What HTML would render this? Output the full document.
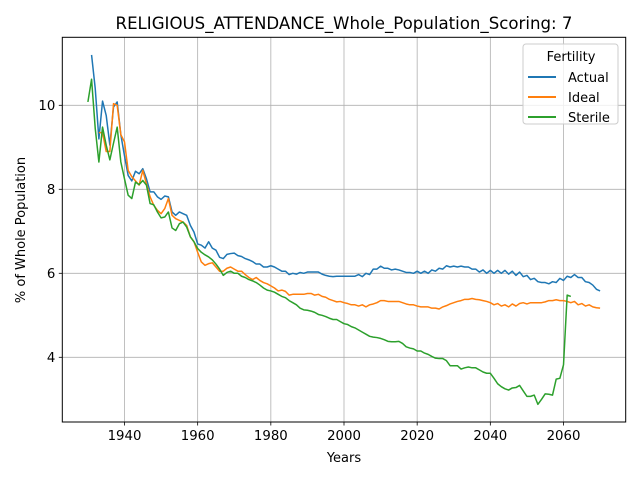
<!DOCTYPE html>
<html><head><meta charset="utf-8"><style>
body{margin:0;background:#fff;}
svg{display:block;font-family:"DejaVu Sans","Liberation Sans",sans-serif;}
</style></head><body>
<svg id="chart" width="640" height="480" viewBox="0 0 640 480" xmlns="http://www.w3.org/2000/svg">
<rect width="640" height="480" fill="#fff"/>
<g id="grid"></g>
<g id="series"></g>
<rect x="62.3" y="37.3" width="563.4" height="384.7" fill="none" stroke="#000" stroke-width="1"/>
<g id="ticks"></g>
<text x="344" y="29" font-size="16.6" text-anchor="middle">RELIGIOUS_ATTENDANCE_Whole_Population_Scoring: 7</text>
<text x="344" y="462" font-size="13" text-anchor="middle">Years</text>
<text transform="translate(25,230) rotate(-90)" font-size="13" text-anchor="middle">% of Whole Population</text>
<g>
<rect x="523" y="44" width="95" height="80" rx="3" fill="#fff" fill-opacity="0.8" stroke="#ccc"/>
<text x="571" y="61" font-size="13" text-anchor="middle">Fertility</text>
<line x1="528" y1="77" x2="556" y2="77" stroke="#1f77b4" stroke-width="2"/>
<text x="568" y="82" font-size="13">Actual</text>
<line x1="528" y1="97" x2="556" y2="97" stroke="#ff7f0e" stroke-width="2"/>
<text x="568" y="102" font-size="13">Ideal</text>
<line x1="528" y1="117" x2="556" y2="117" stroke="#2ca02c" stroke-width="2"/>
<text x="568" y="122" font-size="13">Sterile</text>
</g>
</svg>
<script>
const xTicks=[1940,1960,1980,2000,2020,2040,2060];
const yTicks=[4,6,8,10];
const actualStart=1931;
const actual=[11.2,10.4,9.2,10.1,9.76,9.05,9.96,10.08,9.3,8.8,8.33,8.2,8.43,8.37,8.49,8.25,7.94,7.94,7.82,7.76,7.84,7.82,7.46,7.38,7.46,7.42,7.38,7.14,6.98,6.7,6.67,6.6,6.75,6.6,6.55,6.38,6.35,6.45,6.47,6.48,6.42,6.4,6.35,6.32,6.28,6.22,6.22,6.15,6.15,6.18,6.15,6.1,6.05,6.05,5.97,6.0,5.98,6.02,6.0,6.03,6.03,6.03,6.03,5.98,5.95,5.93,5.92,5.93,5.93,5.93,5.93,5.93,5.93,5.97,5.92,6.0,5.97,6.1,6.1,6.17,6.12,6.12,6.08,6.1,6.08,6.05,6.02,6.02,6.0,6.05,6.0,6.05,6.0,6.08,6.05,6.12,6.1,6.18,6.15,6.17,6.15,6.17,6.15,6.15,6.1,6.1,6.03,6.08,6.0,6.07,6.0,6.07,6.0,6.07,5.98,6.05,5.95,6.03,5.92,5.95,5.85,5.88,5.8,5.78,5.78,5.75,5.8,5.78,5.88,5.83,5.93,5.9,5.97,5.9,5.9,5.8,5.78,5.72,5.62,5.58];
const idealStart=1933;
const ideal=[9.35,9.35,8.9,8.9,10.04,10.0,9.3,9.13,8.45,8.3,8.2,8.1,8.45,8.13,7.82,7.62,7.5,7.42,7.54,7.78,7.38,7.3,7.26,7.22,7.14,6.87,6.75,6.5,6.27,6.19,6.23,6.25,6.15,6.05,6.05,6.12,6.15,6.1,6.05,6.05,5.97,5.9,5.85,5.9,5.83,5.78,5.75,5.7,5.65,5.58,5.6,5.57,5.48,5.5,5.5,5.5,5.5,5.52,5.52,5.48,5.5,5.45,5.43,5.38,5.35,5.32,5.33,5.3,5.28,5.25,5.25,5.22,5.25,5.2,5.25,5.27,5.3,5.35,5.35,5.33,5.33,5.33,5.33,5.3,5.27,5.25,5.25,5.22,5.2,5.2,5.2,5.17,5.17,5.15,5.2,5.23,5.27,5.3,5.33,5.35,5.38,5.38,5.4,5.38,5.37,5.35,5.33,5.3,5.25,5.28,5.22,5.25,5.2,5.27,5.22,5.28,5.3,5.27,5.3,5.3,5.3,5.3,5.32,5.35,5.35,5.37,5.35,5.35,5.33,5.3,5.33,5.25,5.28,5.22,5.25,5.2,5.18,5.17];
const sterileStart=1930;
const sterile=[10.08,10.62,9.45,8.65,9.48,9.05,8.7,9.1,9.48,8.65,8.25,7.86,7.78,8.17,8.11,8.21,8.1,7.66,7.63,7.46,7.32,7.34,7.46,7.08,7.02,7.18,7.22,7.1,6.87,6.75,6.59,6.5,6.44,6.39,6.32,6.22,6.1,5.95,6.02,6.05,6.0,6.0,5.93,5.9,5.85,5.82,5.78,5.72,5.65,5.6,5.58,5.55,5.5,5.45,5.42,5.35,5.3,5.25,5.17,5.13,5.12,5.1,5.07,5.02,5.0,4.97,4.93,4.9,4.9,4.85,4.8,4.78,4.73,4.7,4.65,4.6,4.55,4.5,4.48,4.47,4.45,4.42,4.38,4.37,4.37,4.38,4.33,4.25,4.22,4.2,4.15,4.15,4.1,4.07,4.02,3.98,3.97,3.97,3.92,3.8,3.8,3.8,3.72,3.75,3.77,3.75,3.75,3.7,3.65,3.62,3.62,3.5,3.37,3.3,3.25,3.22,3.27,3.28,3.33,3.2,3.07,3.07,3.1,2.88,3.0,3.13,3.12,3.1,3.48,3.5,3.82,5.48,5.45];

const X0=62.3,X1=625.7,Y0=37.3,Y1=422;
const xMin=1923,xMax=2077;
const yAt10=105.3,pxPerUnit=42;
const sx=v=>X0+(v-xMin)/(xMax-xMin)*(X1-X0);
const sy=v=>yAt10-(v-10)*pxPerUnit;
const NS='http://www.w3.org/2000/svg';
const grid=document.getElementById('grid'),ticks=document.getElementById('ticks'),series=document.getElementById('series');
function mk(tag,attrs,parent){const e=document.createElementNS(NS,tag);for(const k in attrs)e.setAttribute(k,attrs[k]);parent.appendChild(e);return e;}
xTicks.forEach(t=>{
  const x=sx(t);
  const g=mk('line',{x1:x,x2:x,y1:Y0,y2:Y1,stroke:'#b0b0b0','stroke-width':0.8},grid);
  
  
  const tk=mk('line',{x1:x,x2:x,y1:Y1,y2:Y1+3.5,stroke:'#000','stroke-width':0.8},ticks);
  
  
  const tx=mk('text',{x:x,y:Y1+18,'font-size':13.3,'text-anchor':'middle'},ticks);
  tx.textContent=t;
  
  
});
yTicks.forEach(t=>{
  const y=sy(t);
  const g=mk('line',{x1:X0,x2:X1,y1:y,y2:y,stroke:'#b0b0b0','stroke-width':0.8},grid);
  
  
  const tk=mk('line',{x1:X0-3.5,x2:X0,y1:y,y2:y,stroke:'#000','stroke-width':0.8},ticks);
  
  
  const tx=mk('text',{x:X0-7,y:y+4.8,'font-size':13.3,'text-anchor':'end'},ticks);
  tx.textContent=t;
  
  
});
function line(data,start,color,name){
  const pts=data.map((v,i)=>sx(start+i).toFixed(2)+','+sy(v).toFixed(2)).join(' ');
  const p=mk('polyline',{points:pts,fill:'none',stroke:color,'stroke-width':1.5,'stroke-linejoin':'round'},series);
  
  
}
line(actual,actualStart,'#1f77b4','actual-line');
line(ideal,idealStart,'#ff7f0e','ideal-line');
line(sterile,sterileStart,'#2ca02c','sterile-line');
</script>
</body></html>
